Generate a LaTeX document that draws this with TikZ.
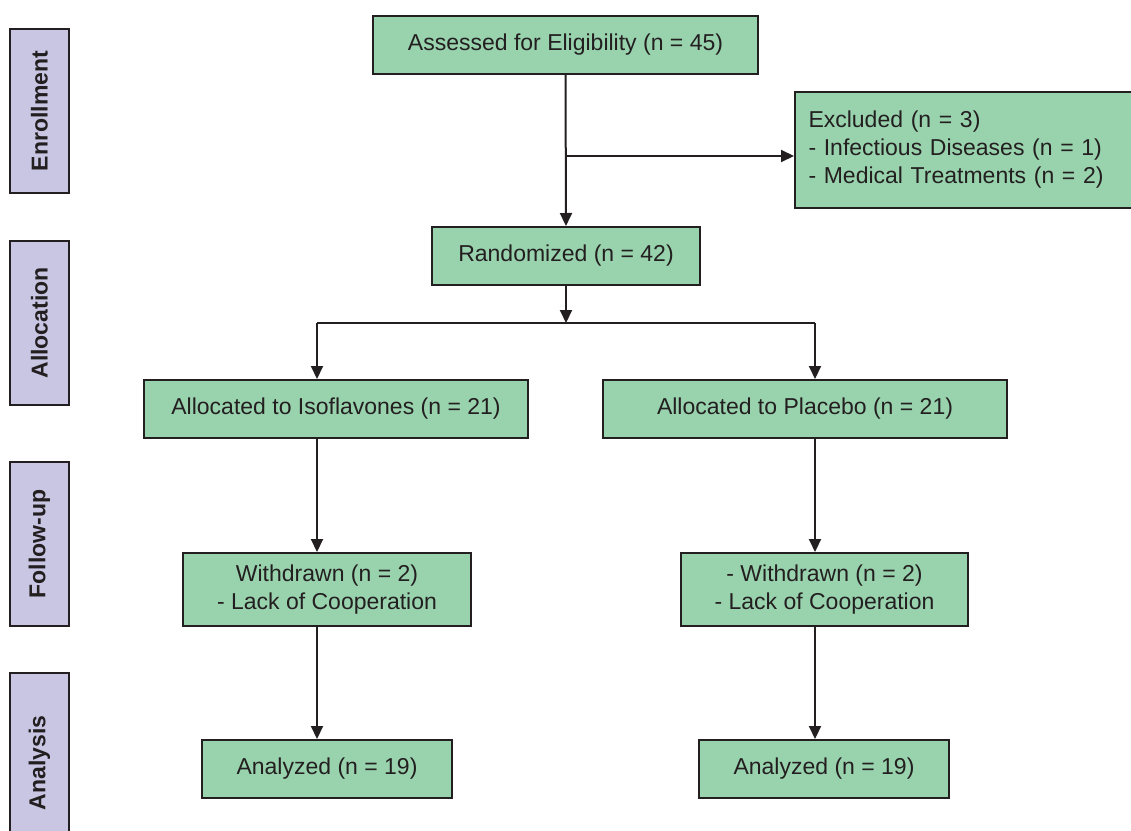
\documentclass[tikz,border=0pt]{standalone}
\usepackage{fontspec}
\setmainfont{Liberation Sans}
\usetikzlibrary{arrows.meta}
\definecolor{boxgreen}{RGB}{153,211,174}
\definecolor{sidelav}{RGB}{201,198,228}
\definecolor{ink}{RGB}{35,31,32}
\tikzset{
  box/.style={draw=ink, line width=2pt, fill=boxgreen, text=ink, inner sep=0pt, align=center,
    font=\fontsize{23}{28}\selectfont},
  side/.style={draw=ink, line width=2pt, fill=sidelav, text=ink, inner sep=0pt, rotate=90,
    font=\fontsize{23}{27}\selectfont\bfseries, minimum height=59pt},
  conn/.style={draw=ink, line width=2pt},
  arr/.style={conn, -{Triangle[length=13pt,width=12pt]}}
}
\begin{document}
\begin{tikzpicture}[x=1pt,y=-1pt]
\useasboundingbox (0,0) rectangle (1131,830);
\clip (0,0) rectangle (1131,830);
% side labels
\node[side, minimum width=164pt] (enr) at (39.5,111) {Enrollment};
\node[side, minimum width=164pt] (alc) at (39.5,323) {Allocation};
\node[side, minimum width=164pt] (fol) at (39.5,544) {Follow-up};
\node[side, minimum width=180pt] (ana) at (39.5,763) {Analysis};
% boxes
\node[box, minimum width=342pt, minimum height=116pt, align=left, text width=315pt, inner xsep=13.5pt] (excl) at (966,150)
  {Excluded (n = 3)\\- Infectious Diseases (n = 1)\\- Medical Treatments (n = 2)};
\node[box, minimum width=385pt, minimum height=58pt] (assess) at (565.5,45) {Assessed for Eligibility (n = 45)};
\node[box, minimum width=268pt, minimum height=58pt] (rand) at (566,256) {Randomized (n = 42)};
\node[box, minimum width=384pt, minimum height=58pt] (iso) at (336,409) {Allocated to Isoflavones (n = 21)};
\node[box, minimum width=404pt, minimum height=58pt] (plc) at (805,409) {Allocated to Placebo (n = 21)};
\node[box, minimum width=288pt, minimum height=73pt] (wl) at (327,589.5) {Withdrawn (n = 2)\\- Lack of Cooperation};
\node[box, minimum width=287pt, minimum height=73pt] (wr) at (824.5,589.5) {- Withdrawn (n = 2)\\- Lack of Cooperation};
\node[box, minimum width=250pt, minimum height=58pt] (al) at (327,769) {Analyzed (n = 19)};
\node[box, minimum width=250pt, minimum height=58pt] (ar) at (824,769) {Analyzed (n = 19)};
% connectors
\coordinate (b1) at (566,156);
\coordinate (split) at (566,323);
\coordinate (L) at (317,323);
\coordinate (R) at (815,323);
\draw[arr] (assess.south) -- (rand.north);
\draw[arr] (b1) -- (b1 -| excl.west);
\draw[arr] (rand.south) -- (split);
\draw[conn] (L) -- (R);
\draw[arr] (L) -- (L |- iso.north);
\draw[arr] (R) -- (R |- plc.north);
\draw[arr] (L |- iso.south) -- (L |- wl.north);
\draw[arr] (R |- plc.south) -- (R |- wr.north);
\draw[arr] (L |- wl.south) -- (L |- al.north);
\draw[arr] (R |- wr.south) -- (R |- ar.north);
\end{tikzpicture}
\end{document}
